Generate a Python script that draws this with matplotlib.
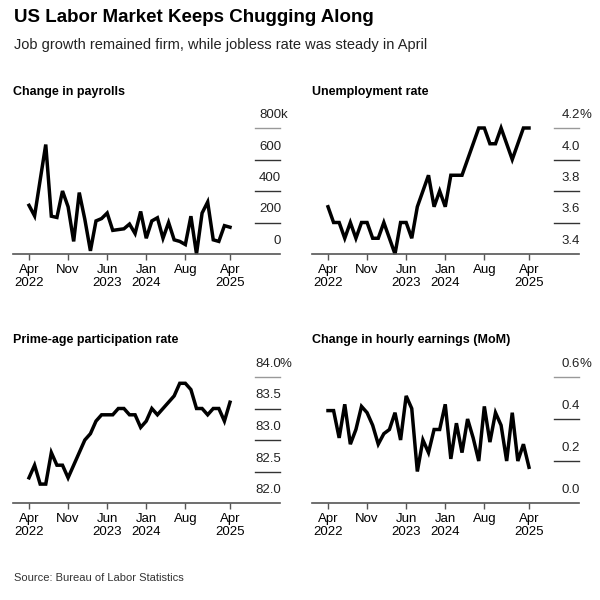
import matplotlib
matplotlib.use("Agg")
import matplotlib.pyplot as plt
import matplotlib.transforms as mtransforms

months = list(range(37))  # Apr 2022 .. Apr 2025
tick_pos = [0, 7, 14, 21, 28, 36]
tick_labels = ["Apr\n2022", "Nov", "Jun\n2023", "Jan\n2024", "Aug", "Apr\n2025"]

payrolls = [309, 242, 470, 695, 240, 232, 400, 300, 80, 390, 220, 20, 210, 225, 260, 150,
            155, 160, 190, 130, 270, 100, 210, 230, 100, 200, 90, 80, 60, 240, 0, 260,
            330, 90, 80, 180, 170]
unemployment = [3.7, 3.6, 3.6, 3.5, 3.6, 3.5, 3.6, 3.6, 3.5, 3.5, 3.6, 3.5, 3.4, 3.6, 3.6, 3.5,
                3.7, 3.8, 3.9, 3.7, 3.8, 3.7, 3.9, 3.9, 3.9, 4.0, 4.1, 4.2, 4.2, 4.1, 4.1, 4.2,
                4.1, 4.0, 4.1, 4.2, 4.2]
participation = [82.4, 82.6, 82.3, 82.3, 82.8, 82.6, 82.6, 82.4, 82.6, 82.8, 83.0, 83.1, 83.3,
                 83.4, 83.4, 83.4, 83.5, 83.5, 83.4, 83.4, 83.2, 83.3, 83.5, 83.4, 83.5, 83.6,
                 83.7, 83.9, 83.9, 83.8, 83.5, 83.5, 83.4, 83.5, 83.5, 83.3, 83.6]
earnings = [0.44, 0.44, 0.31, 0.47, 0.28, 0.35, 0.46, 0.43, 0.37, 0.28, 0.33, 0.35, 0.43, 0.30,
            0.51, 0.45, 0.15, 0.30, 0.24, 0.35, 0.35, 0.47, 0.21, 0.38, 0.24, 0.40, 0.31, 0.20,
            0.46, 0.29, 0.43, 0.37, 0.20, 0.43, 0.20, 0.28, 0.17]

panels = [
    ("Change in payrolls", payrolls, [0, 200, 400, 600, 800], ["0", "200", "400", "600", "800"], "k"),
    ("Unemployment rate", unemployment, [3.4, 3.6, 3.8, 4.0, 4.2], ["3.4", "3.6", "3.8", "4.0", "4.2"], "%"),
    ("Prime-age participation rate", participation, [82.0, 82.5, 83.0, 83.5, 84.0], ["82.0", "82.5", "83.0", "83.5", "84.0"], "%"),
    ("Change in hourly earnings (MoM)", earnings, [0.0, 0.2, 0.4, 0.6], ["0.0", "0.2", "0.4", "0.6"], "%"),
]

W = H = 600
fig = plt.figure(figsize=(6, 6), dpi=100)
fig.patch.set_facecolor("white")
FONT = "Liberation Sans"

fig.text(14/W, 1-18/H, "US Labor Market Keeps Chugging Along", fontsize=13.5, fontweight="bold",
         family=FONT, va="center")
fig.text(14/W, 1-45/H, "Job growth remained firm, while jobless rate was steady in April", fontsize=10.5,
         family=FONT, va="center", color="#222222")
fig.text(14/W, 1-578/H, "Source: Bureau of Labor Statistics", fontsize=8, family=FONT, va="center",
         color="#333333")

geo = [(13, 92, 254, 128), (312, 92, 254, 128), (13, 340, 503, 377), (312, 340, 503, 377)]
x0px, x36px, xr = 29, 230, 280

for (title, vals, yt, ylab, suf), (lp, ty, by, tp) in zip(panels, geo):
    fig.text(lp/W, 1-ty/H, title, fontsize=9, fontweight="bold", family=FONT, va="center")
    aw = xr - 13
    ax = fig.add_axes([lp/W, 1-by/H, aw/W, (by-tp)/H])
    ppm = (x36px - x0px) / 36.0
    xmin = -(x0px - 13) / ppm
    xmax = xmin + aw / ppm
    ax.set_xlim(xmin, xmax)
    ax.set_ylim(yt[0], yt[-1])
    ax.plot(months, vals, color="black", lw=2.5, solid_joinstyle="miter", clip_on=False)
    for s in ["top", "right", "left"]:
        ax.spines[s].set_visible(False)
    ax.spines["bottom"].set_color("#555555")
    ax.spines["bottom"].set_linewidth(1.2)
    ax.set_yticks([])
    ax.set_xticks(tick_pos)
    ax.set_xticklabels(tick_labels, fontsize=9.5, family=FONT, linespacing=1.1)
    ax.tick_params(axis="x", length=4, width=1, color="#555555", pad=3)
    gx0 = xmin + (255 - 13) / ppm
    for v in yt[1:]:
        ax.plot([gx0, xmax], [v, v], color="#333333" if v != yt[-1] else "#999999",
                lw=1.0, clip_on=False)
    trans = mtransforms.offset_copy(ax.transData, fig=fig, x=0, y=7, units="dots")
    strans = mtransforms.offset_copy(ax.transData, fig=fig, x=-1, y=7, units="dots")
    lx = xmin + (281 - 13) / ppm
    for v, lab in zip(yt, ylab):
        ax.text(lx, v, lab, ha="right", va="bottom", fontsize=9.5, family=FONT,
                transform=trans, color="#222222", clip_on=False)
    ax.text(lx, yt[-1], suf, ha="left", va="bottom", fontsize=9.5, family=FONT,
            transform=strans, color="#222222", clip_on=False)

fig.savefig("out.png", dpi=100, facecolor="white")
